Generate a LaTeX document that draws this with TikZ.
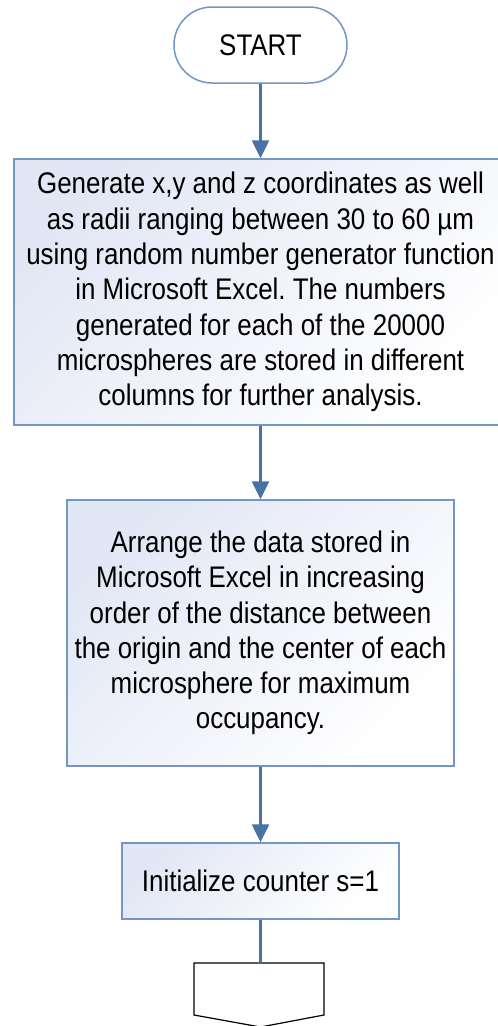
\documentclass[tikz,border=0pt]{standalone}
\usepackage{fontspec}
\setmainfont[FakeStretch=0.87]{Liberation Sans}
\usetikzlibrary{arrows.meta,shapes.misc}
\definecolor{edgeblue}{HTML}{7097C6}
\definecolor{arrowblue}{HTML}{4872A3}
\definecolor{fillblue}{HTML}{E2E7F5}
\tikzset{
  procbox/.style={draw=edgeblue, line width=1.5pt, shading=axis, top color=fillblue, bottom color=white, shading angle=45, align=center, inner sep=0pt, font=\fontsize{29.8}{35.3}\selectfont, text=black},
  termbox/.style={draw=edgeblue, line width=1.5pt, fill=white, rounded rectangle, inner sep=0pt, font=\fontsize{29.8}{35}\selectfont},
  flowarrow/.style={draw=arrowblue, line width=2.6pt, -{Triangle[length=18pt,width=17pt]}},
  flowline/.style={draw=arrowblue, line width=2.6pt},
}
\frenchspacing
\begin{document}
\begin{tikzpicture}[x=1pt,y=-1pt]
\useasboundingbox (0,0) rectangle (498,1026);
\fill[white] (0,0) rectangle (498,1026);
\node[termbox, minimum width=173pt, minimum height=76pt] (start) at (260.5,45) {START};
\node[procbox, minimum width=493pt, minimum height=266pt] (gen) at (260.5,292) {Generate x,y and z coordinates as well\\as radii ranging between 30 to 60 µm\\using random number generator function\\in Microsoft Excel. The numbers\\generated for each of the 20000\\microspheres are stored in different\\columns for further analysis.};
\node[procbox, minimum width=387pt, minimum height=266pt] (arr) at (260.5,633) {Arrange the data stored in\\Microsoft Excel in increasing\\order of the distance between\\the origin and the center of each\\microsphere for maximum\\occupancy.};
\node[procbox, minimum width=277pt, minimum height=76pt] (init) at (260.5,881) {Initialize counter s=1};
\coordinate (pent) at (260.5,963);
\draw[black, line width=1.2pt, fill=white] (194,963) -- (324,963) -- (324,1015) -- (260.5,1027) -- (194,1015) -- cycle;
\draw[flowarrow] (start.south) -- (gen.north);
\draw[flowarrow] (gen.south) -- (arr.north);
\draw[flowarrow] (arr.south) -- (init.north);
\draw[flowline] (init.south) -- (pent);
\end{tikzpicture}
\end{document}
